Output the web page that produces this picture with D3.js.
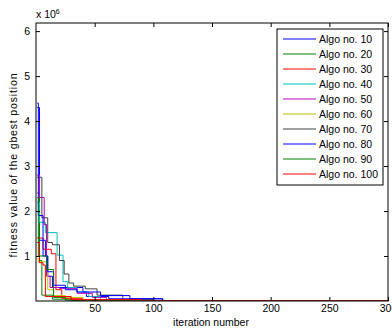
<!DOCTYPE html>
<html>
<head>
<meta charset="utf-8">
<script src="https://cdn.jsdelivr.net/npm/d3@7"></script>
<style>
  body { margin: 0; background: #fff; }
  text { font-family: "Liberation Sans", Arial, sans-serif; font-size: 10.5px; fill: #000; }
</style>
</head>
<body>
<div id="chart"></div>
<script>
// iteration / gbest fitness (x 1e6), steps
const algo10 = [[1, 4.3], [3, 1.35], [8, 1.0], [10, 0.55], [14, 0.3], [40, 0.2], [43, 0.1], [62, 0.05], [108, 0.005]]
const algo20 = [[1, 2.4], [3, 0.9], [5, 0.13], [14, 0.04], [30, 0.01], [50, 0.003]]
const algo30 = [[1, 1.4], [6, 1.15], [13, 1.05], [17, 0.25], [22, 0.06], [40, 0.02], [70, 0.005]]
const algo40 = [[1, 2.2], [3, 1.75], [8, 1.52], [18, 1.02], [23, 0.43], [27, 0.3], [35, 0.2], [45, 0.1], [55, 0.03], [80, 0.005]]
const algo50 = [[1, 2.8], [3, 2.3], [7, 1.7], [9, 0.55], [12, 0.3], [20, 0.28], [35, 0.17], [48, 0.08], [60, 0.03], [80, 0.005]]
const algo60 = [[1, 0.95], [2, 0.87], [10, 0.25], [15, 0.12], [25, 0.08], [40, 0.03], [70, 0.005]]
const algo70 = [[1, 2.75], [5, 1.85], [10, 1.3], [14, 1.25], [20, 0.9], [24, 0.6], [28, 0.4], [32, 0.33], [42, 0.27], [52, 0.13], [74, 0.03], [100, 0.005]]
const algo80 = [[1, 4.4], [2, 1.9], [6, 1.0], [10, 0.65], [15, 0.35], [25, 0.25], [35, 0.2], [55, 0.12], [80, 0.05], [108, 0.005]]
const algo90 = [[1, 2.3], [2, 1.0], [9, 0.7], [15, 0.08], [25, 0.02], [60, 0.005]]
const algo100 = [[1, 1.3], [3, 0.85], [6, 0.8], [8, 0.1], [30, 0.03], [90, 0.005]]

const seriesNames = ['Algo no. 10', 'Algo no. 20', 'Algo no. 30', 'Algo no. 40', 'Algo no. 50',
  'Algo no. 60', 'Algo no. 70', 'Algo no. 80', 'Algo no. 90', 'Algo no. 100']
const seriesData = [algo10, algo20, algo30, algo40, algo50, algo60, algo70, algo80, algo90, algo100]
const colors = ['#0000ff', '#008000', '#ff0000', '#00bfbf', '#bf00bf', '#bfbf00', '#404040']

const xTicks = [50, 100, 150, 200, 250, 300]
const yTicks = [1, 2, 3, 4, 5, 6]
const maxIter = 300

const chartWidth = 392
const chartHeight = 334
const plotL = 36, plotR = 388, plotT = 23, plotB = 301

const svg = d3.select('#chart').append('svg')
  .attr('width', chartWidth)
  .attr('height', chartHeight)

const scaleX = d3.scaleLinear().domain([0, maxIter]).range([plotL, plotR])
const scaleY = d3.scaleLinear().domain([0, 6.18]).range([plotB, plotT])

svg.append('clipPath').attr('id', 'plot-clip')
  .append('rect')
  .attr('x', plotL).attr('y', plotT)
  .attr('width', plotR - plotL).attr('height', plotB - plotT)

// lines
const line = d3.line()
  .x(d => scaleX(d[0]))
  .y(d => scaleY(d[1]))
  .curve(d3.curveStepAfter)

svg.append('g')
  .attr('clip-path', 'url(#plot-clip)')
  .selectAll('path')
  .data(seriesData)
  .enter()
  .append('path')
  .attr('d', d => line(d.concat([[maxIter, d[d.length - 1][1]]])))
  .attr('fill', 'none')
  .attr('stroke', (d, i) => colors[i % colors.length])
  .attr('stroke-width', 1)

// axes, ticks inward on all four sides
const axisB = d3.axisBottom(scaleX).tickValues(xTicks).tickSizeInner(-4).tickSizeOuter(0).tickPadding(4)
const axisL = d3.axisLeft(scaleY).tickValues(yTicks).tickFormat(d3.format('d')).tickSizeInner(-4).tickSizeOuter(0).tickPadding(6)
const axisT = d3.axisTop(scaleX).tickValues(xTicks).tickSizeInner(-4).tickSizeOuter(0).tickFormat('')
const axisR = d3.axisRight(scaleY).tickValues(yTicks).tickSizeInner(-4).tickSizeOuter(0).tickFormat('')

function styleAxis(g) {
  g.select('.domain').remove()
  g.selectAll('line').attr('stroke', '#000')
  g.selectAll('text').style('font-size', '10.5px').style('font-family', '"Liberation Sans", Arial, sans-serif')
}

svg.append('g').attr('transform', 'translate(0,' + plotB + ')').call(axisB).call(styleAxis)
svg.append('g').attr('transform', 'translate(' + plotL + ',0)').call(axisL).call(styleAxis)
svg.append('g').attr('transform', 'translate(0,' + plotT + ')').call(axisT).call(styleAxis)
svg.append('g').attr('transform', 'translate(' + plotR + ',0)').call(axisR).call(styleAxis)

svg.append('rect')
  .attr('x', plotL).attr('y', plotT)
  .attr('width', plotR - plotL).attr('height', plotB - plotT)
  .attr('fill', 'none').attr('stroke', '#000').attr('stroke-width', 1)

// exponent label
const expo = svg.append('text').attr('x', plotL).attr('y', 18)
expo.append('tspan').text('x 10')
expo.append('tspan').text('6').attr('dy', -4).style('font-size', '7px')

// axis labels
svg.append('text')
  .attr('x', 211)
  .attr('y', 326)
  .attr('text-anchor', 'middle')
  .text('iteration number')

svg.append('text')
  .attr('transform', 'translate(17,165.5) rotate(-90)')
  .attr('text-anchor', 'middle')
  .attr('textLength', 184)
  .attr('lengthAdjust', 'spacing')
  .text('fitness value of the gbest position')

// legend
const legX = 277, legY = 29, rowH = 15
const legend = svg.append('g')
legend.append('rect')
  .attr('x', legX).attr('y', legY)
  .attr('width', 106).attr('height', seriesNames.length * rowH + 6)
  .attr('fill', '#fff').attr('stroke', '#000')

const rows = legend.selectAll('g.row')
  .data(seriesNames)
  .enter()
  .append('g')
  .attr('class', 'row')
  .attr('transform', (d, i) => 'translate(0,' + (legY + 10 + i * rowH) + ')')

rows.append('line')
  .attr('x1', legX + 6).attr('x2', legX + 39)
  .attr('stroke', (d, i) => colors[i % colors.length])
  .attr('stroke-width', 1)

rows.append('text')
  .attr('x', legX + 42)
  .attr('y', 4)
  .text(d => d)
</script>
</body>
</html>
